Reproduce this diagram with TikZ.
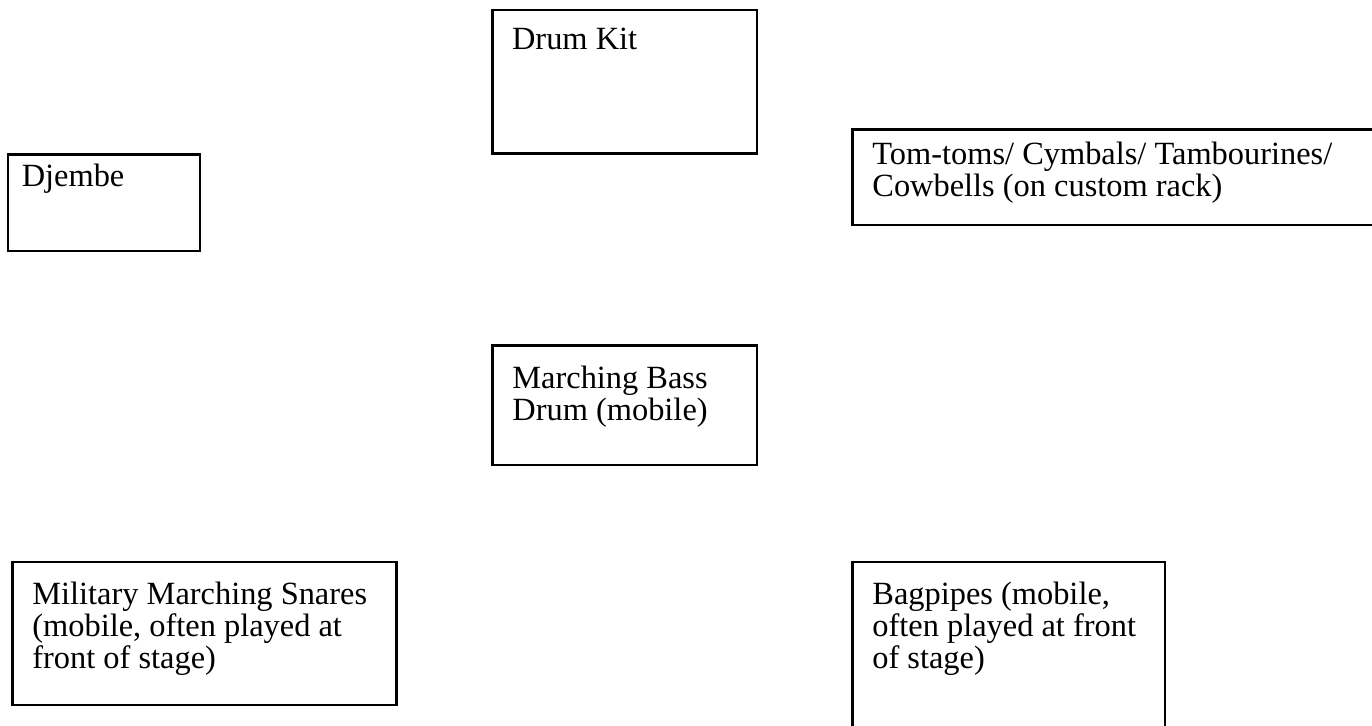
\documentclass[tikz,border=0pt]{standalone}
\usepackage{fontspec}
\setmainfont{Liberation Serif}
\usetikzlibrary{positioning,fit}

\begin{document}
\begin{tikzpicture}[
  x=0.5pt,y=-0.5pt,
  stagebox/.style={draw,line width=1.3pt,inner sep=0pt},
  boxtext/.style={anchor=north west,inner sep=0pt,align=left,
                  font=\fontsize{16.2pt}{16.1pt}\selectfont},
]
\useasboundingbox (0,0) rectangle (1372,726);

%% back row
\node[stagebox,fit={(492.7,10) (757,153.7)}]       (kit)    {};
\node[stagebox,fit={(8,154.7) (200,251)}]          (djembe) {};
\node[stagebox,fit={(852.7,129.7) (1392,225)}]     (rack)   {};
\node[boxtext] (kittext)    at ([shift={(20.3,19.3)}]kit.north west)    {Drum Kit};
\node[boxtext] (djembetext) at ([shift={(14.7,10.6)}]djembe.north west) {Djembe};
\node[boxtext] (racktext)   at ([shift={(20.6,12.9)}]rack.north west)
  {Tom-toms/ Cymbals/ Tambourines/\\Cowbells (on custom rack)};

%% middle
\node[stagebox,fit={(492.7,345.7) (757,465)}]      (bass)   {};
\node[boxtext] (basstext)   at ([shift={(20.6,21.3)}]bass.north west)
  {Marching Bass\\Drum (mobile)};

%% front of stage
\node[stagebox,fit={(12.7,562) (396.7,705)}]       (snares) {};
\node[stagebox,fit={(852.7,562) (1165,745)}]       (pipes)  {};
\node[boxtext] (snarestext) at ([shift={(20.6,20.6)}]snares.north west)
  {Military Marching Snares\\(mobile, often played at\\front of stage)};
\node[boxtext] (pipestext)  at ([shift={(20.6,20.6)}]pipes.north west)
  {Bagpipes (mobile,\\often played at front\\of stage)};
\end{tikzpicture}
\end{document}
